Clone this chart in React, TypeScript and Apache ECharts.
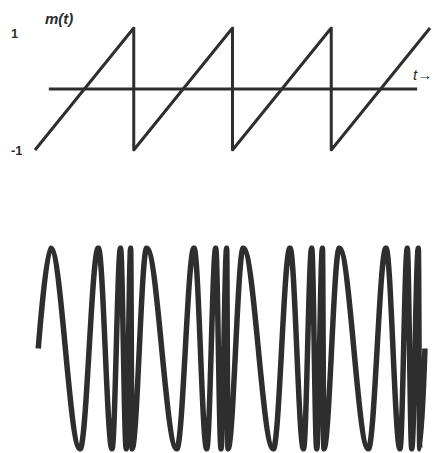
import React, { useEffect, useRef } from "react";
import * as echarts from "echarts";

// Top panel: sawtooth message m(t) (time in periods of the sawtooth)
const sawT = [0, 1, 1, 2, 2, 3, 3, 4];
const sawM = [-1, 1, -1, 1, -1, 1, -1, 1];
// time axis line drawn at m = 0
const timeAxisT = [0.14, 3.87];
const timeAxisM = [0, 0];
const yTickLabels = ["-1", "1"];

// Bottom panel: FM wave, instants of zero crossings / peaks / troughs
const fmT = [
  0.033, 0.159, 0.456, 0.641, 0.78, 0.866, 0.924, 0.969, 0.982,
  1.131, 1.435, 1.61, 1.739, 1.83, 1.884, 1.941, 1.954,
  2.109, 2.413, 2.582, 2.719, 2.802, 2.853, 2.911, 2.925,
  3.082, 3.375, 3.554, 3.696, 3.77, 3.815, 3.882, 3.896, 3.949,
];
const fmV = [
  0, 1, -1, 1, -1, 1, -1, 1, -1,
  1, -1, 1, -1, 1, -1, 1, -1,
  1, -1, 1, -1, 1, -1, 1, -1,
  1, -1, 1, -1, 1, -1, 1, -1, 0,
];

const INK = "#2e2e2e";
const FONT = "'Liberation Sans', Arial, sans-serif";

export default function App() {
  const ref = useRef<HTMLDivElement>(null);
  useEffect(() => {
    if (!ref.current) return;
    const chart = echarts.init(ref.current, null, { renderer: "svg" });
    const saw = sawT.map((t, i) => [t, sawM[i]]);
    const axisLine = timeAxisT.map((t, i) => [t, timeAxisM[i]]);
    const fm = fmT.map((t, i) => [t, fmV[i]]);
    chart.setOption({
      animation: false,
      backgroundColor: "#ffffff",
      grid: [
        { left: 35, top: 28, width: 395, height: 122 },
        { left: 35, top: 248, width: 395, height: 201 },
      ],
      xAxis: [
        { type: "value", gridIndex: 0, min: 0, max: 4, show: false },
        { type: "value", gridIndex: 1, min: 0, max: 4, show: false },
      ],
      yAxis: [
        {
          type: "value",
          gridIndex: 0,
          min: -1,
          max: 1,
          interval: 2,
          axisLine: { show: false },
          axisTick: { show: false },
          splitLine: { show: false },
          axisLabel: {
            show: true,
            align: "left",
            margin: 24,
            color: INK,
            fontSize: 13,
            fontFamily: FONT,
            formatter: (v: number) =>
              v === 1 ? "{hi|" + yTickLabels[1] + "}" : "{lo|" + yTickLabels[0] + "}",
            rich: {
              hi: { fontSize: 13, fontFamily: FONT, color: INK, fontWeight: "bold", padding: [10, 0, 0, 0] },
              lo: { fontSize: 13, fontFamily: FONT, color: INK, fontWeight: "bold" },
            },
          },
        },
        { type: "value", gridIndex: 1, min: -1, max: 1, show: false },
      ],
      series: [
        {
          type: "line",
          xAxisIndex: 0,
          yAxisIndex: 0,
          data: axisLine,
          symbol: "none",
          lineStyle: { color: INK, width: 3 },
          silent: true,
        },
        {
          type: "line",
          xAxisIndex: 0,
          yAxisIndex: 0,
          data: saw,
          symbol: "none",
          lineStyle: { color: INK, width: 3, join: "round" },
          silent: true,
        },
        {
          type: "line",
          xAxisIndex: 1,
          yAxisIndex: 1,
          data: fm,
          symbol: "none",
          smooth: 0.36,
          smoothMonotone: "x",
          lineStyle: { color: INK, width: 5.5, join: "round" },
          silent: true,
        },
      ],
      graphic: [
        {
          type: "text",
          left: 45,
          top: 11,
          style: {
            text: "m(t)",
            fill: INK,
            font: "italic bold 15px " + FONT,
          },
        },
        {
          type: "text",
          left: 413,
          top: 67,
          style: {
            text: "t→",
            fill: INK,
            font: "italic 15px " + FONT,
          },
        },
      ],
    });
    return () => chart.dispose();
  }, []);
  return (
    <div
      ref={ref}
      style={{ position: "fixed", left: 0, top: 0, width: 435, height: 453, background: "#fff" }}
    />
  );
}
